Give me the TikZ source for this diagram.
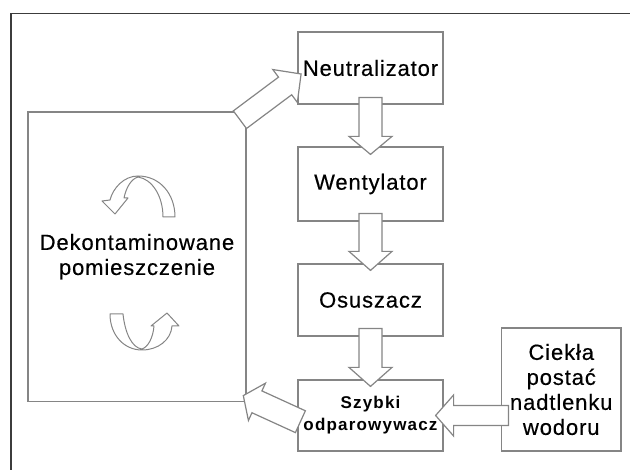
\documentclass[tikz,border=0pt]{standalone}
\usepackage{fontspec}
\setmainfont{Liberation Sans}
\newfontfamily\boxfont[LetterSpace=4, FakeBold=0.4]{Liberation Sans}
\newfontfamily\smallboxfont[LetterSpace=7]{Liberation Sans}
\usetikzlibrary{calc}

\definecolor{framegray}{HTML}{3C3C3C}
\definecolor{boxgray}{HTML}{858585}

\tikzset{
  unitbox/.style={draw=boxgray, line width=1.2pt, inner sep=0pt, align=center,
    minimum width=145pt, font=\boxfont\fontsize{22}{25}\selectfont},
  flowarrow/.style={draw=boxgray, line width=1.2pt, fill=white, line join=miter},
  swirl/.style={draw=boxgray, line width=1pt, line join=round},
}

% tail, tip, half shaft, half head, head length
\newcommand{\blockarrow}[5]{%
  \coordinate (ba-h) at ($(#2)!#5!(#1)$);
  \draw[flowarrow] ($(#1)!#3!90:(#2)$) -- ($(ba-h)!#3!90:(#2)$)
    -- ($(ba-h)!#4!90:(#2)$) -- (#2) -- ($(ba-h)!#4!-90:(#2)$)
    -- ($(ba-h)!#3!-90:(#2)$) -- ($(#1)!#3!-90:(#2)$) -- cycle;
}

\begin{document}
\begin{tikzpicture}[x=1pt, y=-1pt]
  \useasboundingbox (0,0) rectangle (630,470);

  % outer frame
  \draw[framegray, line width=1.8pt] (11,470) -- (11,13.5) -- (630,13.5);

  % units
  \node[unitbox, minimum height=72pt] (Neut) at (370.5,68) {Neutralizator};
  \node[unitbox, minimum height=74pt] (Went) at (370.5,184) {Wentylator};
  \node[unitbox, minimum height=72pt] (Osus) at (370.5,300) {Osuszacz};
  \node[unitbox, minimum height=71pt,
        font=\smallboxfont\bfseries\fontsize{17}{22}\selectfont]
        (Szyb) at (370.5,415.5) {Szybki\\odparowywacz};
  \node[unitbox, minimum width=119.5pt, minimum height=123pt]
        (Ciek) at (561.25,389.5) {Ciekła\\postać\\nadtlenku\\wodoru};
  \node[unitbox, minimum width=218pt, minimum height=289.5pt]
        (Room) at (137,256.75) {Dekontaminowane\\pomieszczenie};

  % flow
  \coordinate (NeutOut) at ($(Neut.south)+(0,-7)$);
  \coordinate (WentIn)  at ($(Went.north)+(0,8)$);
  \coordinate (WentOut) at ($(Went.south)+(0,-8)$);
  \coordinate (OsusIn)  at ($(Osus.north)+(0,7)$);
  \coordinate (OsusOut) at ($(Osus.south)+(0,-8)$);
  \coordinate (SzybIn)  at ($(Szyb.north)+(0,7)$);
  \coordinate (CiekOut) at ($(Ciek.west |- Szyb.center)+(7.5,0)$);
  \coordinate (SzybSide) at ($(Szyb.east)+(-8,0)$);
  \coordinate (RoomOut) at ($(Room.north east)+(-6.7,8.3)$);
  \coordinate (NeutIn)  at ($(Neut.west)+(3.7,6)$);
  \coordinate (SzybOut) at ($(Szyb.west)+(3,6.2)$);
  \coordinate (RoomIn)  at ($(Room.south east)+(-3.3,-6.5)$);

  \blockarrow{NeutOut}{WentIn}{11.5pt}{21.5pt}{18pt}
  \blockarrow{WentOut}{OsusIn}{11.5pt}{21.5pt}{19pt}
  \blockarrow{OsusOut}{SzybIn}{11.5pt}{21.5pt}{19pt}
  \blockarrow{CiekOut}{SzybSide}{10pt}{20.5pt}{18pt}
  \blockarrow{RoomOut}{NeutIn}{11pt}{20.5pt}{20pt}
  \blockarrow{SzybOut}{RoomIn}{12pt}{20.5pt}{15pt}

  % circulation in the room
  \draw[swirl] (163,217) -- (175,217) .. controls (175,194) and (160,176) .. (138,176)
    .. controls (124,176) and (113,188) .. (110,200) -- (102,201) -- (115,214)
    -- (128,198) -- (124,198) .. controls (126,188) and (131,179) .. (138,177)
    .. controls (152,179) and (163,196) .. (163,217) -- cycle;
  \draw[swirl] (110,314) -- (123,314) .. controls (125,333) and (132,348) .. (142,349)
    .. controls (148,347) and (153,338) .. (154,326) -- (151,326) -- (167,313)
    -- (179,326) -- (172,326) .. controls (171,340) and (158,350) .. (142,350)
    .. controls (124,350) and (110,335) .. (110,314) -- cycle;
\end{tikzpicture}
\end{document}
